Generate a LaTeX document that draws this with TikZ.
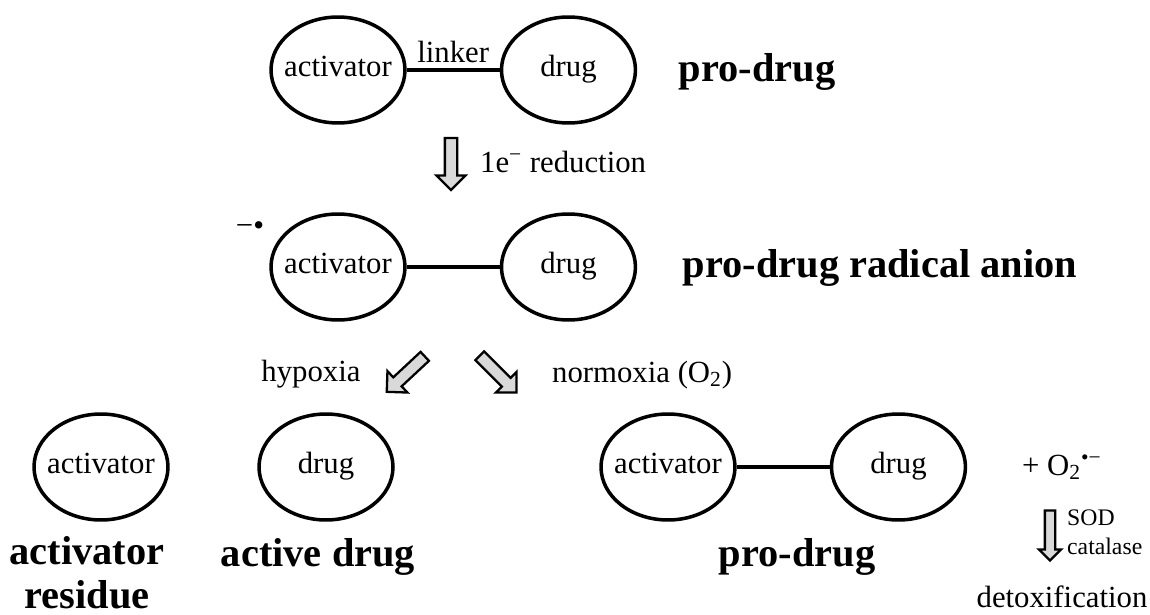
\documentclass[tikz,border=0pt]{standalone}
\usepackage{fontspec}
\setmainfont{Liberation Serif}
\usetikzlibrary{shapes.geometric,shapes.arrows,positioning}

\begin{document}
\begin{tikzpicture}[
  x=0.02cm, y=-0.02cm,
  every node/.style={font=\fontsize{17.5}{21}\selectfont},
  blob/.style={draw, ellipse, line width=2pt, minimum width=2.68cm,
               minimum height=2.12cm, inner xsep=-4pt,
               text height=0.9em, text depth=0.2em},
  bond/.style={line width=2pt},
  title/.style={font=\fontsize{23}{26}\selectfont\bfseries, align=center,
                inner sep=1pt},
  fatarrow/.style={draw, single arrow, fill=gray!30, line width=1.3pt,
                   inner xsep=0pt, inner ysep=0.1cm, minimum height=1.04cm,
                   single arrow head extend=0.17cm, single arrow tip angle=90}
]
\useasboundingbox (0,0) rectangle (1150,615);

% pro-drug
\node (act1)  [blob] at (338,70) {activator};
\node (drug1) [blob, right=1.86cm of act1] {drug};
\node (pd1)   [title] at (757,72) {pro-drug};
\draw[bond] (act1) -- node[above=1pt, inner sep=2pt] {linker} (drug1);

\node (redarr) [fatarrow, rotate=-90] at (451,161) {};
\node (redlbl) [anchor=west] at (474,162) {1e\textsuperscript{−} reduction};

% radical anion
\node (act2)  [blob] at (338,267) {activator};
\node (drug2) [blob, right=1.86cm of act2] {drug};
\node (rad)   at (250,229) {−•};
\node (pd2)   [title] at (880,268) {pro-drug radical anion};
\draw[bond] (act2) -- (drug2);

\node (hypoarr) [fatarrow, rotate=223] at (408,372) {};
\node (hypolbl) at (311,374) {hypoxia};
\node (normarr) [fatarrow, rotate=-45] at (496,372) {};
\node (normlbl) [anchor=west] at (546,375) {normoxia (O\textsubscript{2})};

% fragmented
\node (act3)  [blob] at (101,467) {activator};
\node (drug3) [blob] at (326,467) {drug};
\node (res)   [title, font=\fontsize{23}{25}\selectfont\bfseries] at (87,573)
              {activator\\residue};
\node (live)  [title] at (318,557) {active drug};

% back to pro-drug
\node (act4)  [blob] at (668,467) {activator};
\node (drug4) [blob, right=1.86cm of act4] {drug};
\node (pd3)   [title] at (797,557) {pro-drug};
\draw[bond] (act4) -- (drug4);

\node (sup)  [anchor=west] at (1016,467) {+ O\textsubscript{2}\textsuperscript{•−}};
\node (sodarr) [fatarrow, rotate=-90, minimum height=1cm, inner ysep=0.08cm,
                single arrow head extend=0.12cm] at (1050,533) {};
\node (sodlbl) [anchor=west, align=left, font=\fontsize{13.5}{16.5}\selectfont]
               at (1061,532) {SOD\\catalase};
\node (detox) at (1062,597) {detoxification};
\end{tikzpicture}
\end{document}
